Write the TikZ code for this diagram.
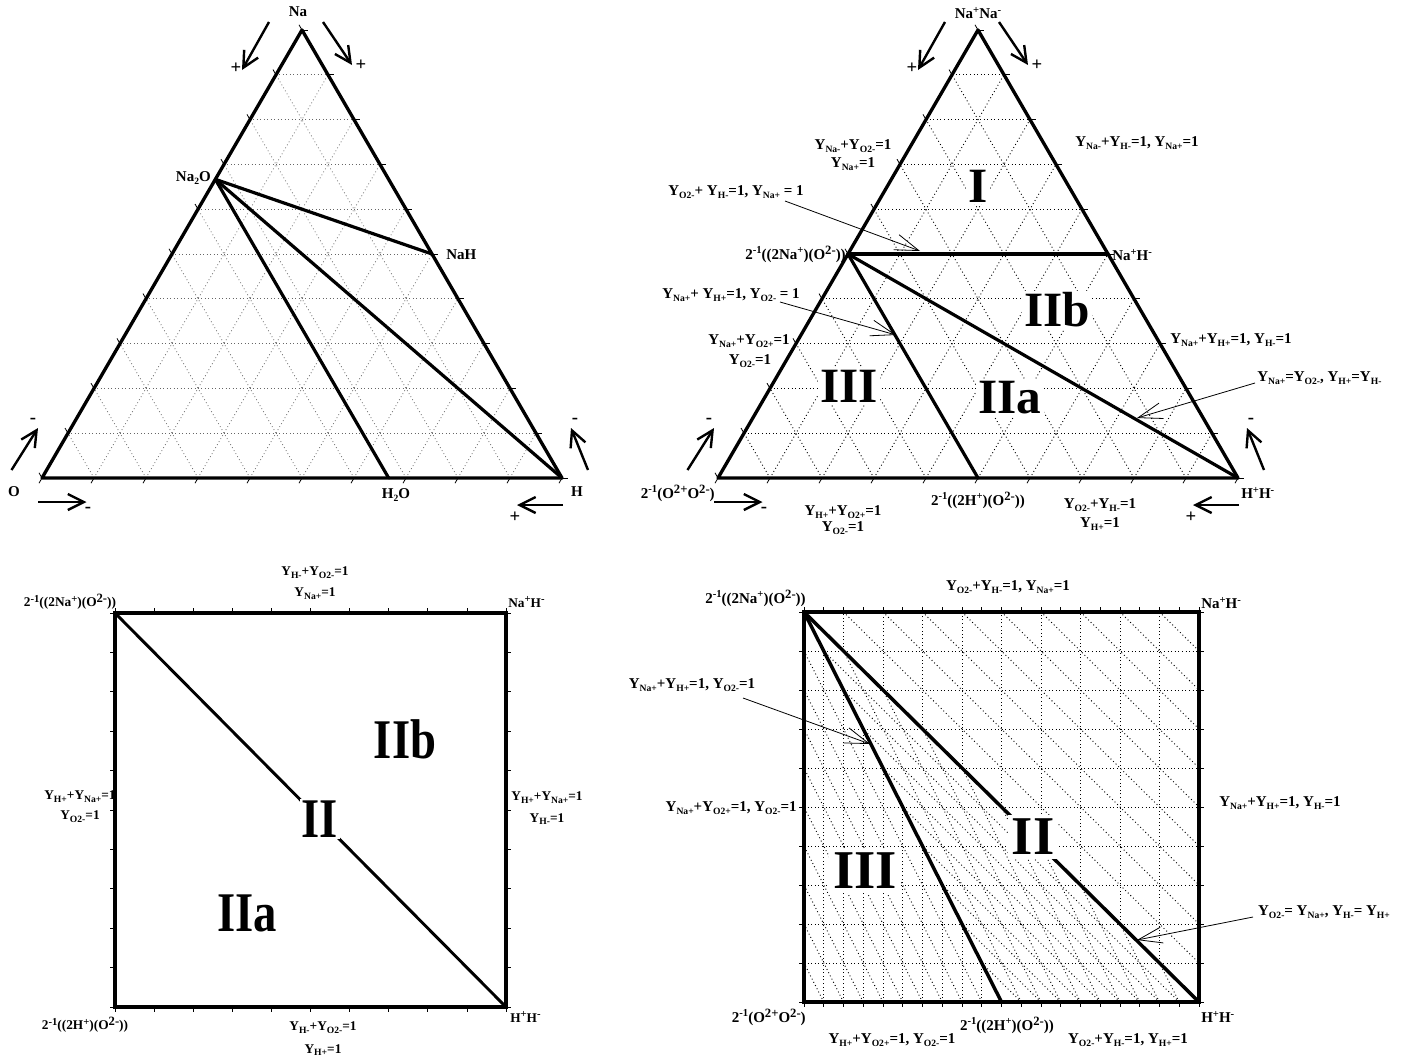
\documentclass[tikz,border=0pt]{standalone}
\usepackage{fontspec}
\usepackage{graphicx}
\setmainfont{Liberation Serif}
\usetikzlibrary{calc,arrows.meta}
\newcommand{\sbx}[1]{\raisebox{-0.45ex}{\fontsize{7.2pt}{7.2pt}\selectfont #1}}
\newcommand{\spx}[1]{\raisebox{0.8ex}{\fontsize{8pt}{8pt}\selectfont #1}}
\newcommand{\spl}[1]{\raisebox{0.7ex}{\fontsize{9.5pt}{9.5pt}\selectfont #1}}
\newcommand{\Ysb}[1]{Y\sbx{#1}}
\newcommand{\terngrid}[4]{%
  \foreach \k [evaluate=\k as \f using \k/10] in {1,...,9}{%
    \draw[#4] ($(#1)!\f!(#2)$) -- ($(#1)!\f!(#3)$);
    \draw[#4] ($(#2)!\f!(#3)$) -- ($(#1)!\f!(#3)$);
    \draw[#4] ($(#2)!\f!(#3)$) -- ($(#2)!\f!(#1)$);
  }}
\newcommand{\terntick}[3]{%
  \foreach \k [evaluate=\k as \f using \k/10] in {0,...,10}{%
    \draw[tickmark] ($(#1)!\f!(#3)$) -- ++(6,0);
    \draw[tickmark] ($(#2)!\f!(#3)$) -- ++(-3,5.2);
    \draw[tickmark] ($(#1)!\f!(#2)$) -- ++(-3,-5.2);
  }}
\newcommand{\signarrows}[1]{%
  \coordinate (#1a1) at (269,22);  \coordinate (#1b1) at (242,70);
  \coordinate (#1a2) at (323,22);  \coordinate (#1b2) at (352,65);
  \coordinate (#1a3) at (11.5,470); \coordinate (#1b3) at (38,428);
  \coordinate (#1a4) at (38,502);  \coordinate (#1b4) at (86.5,502);
  \coordinate (#1a5) at (588,470); \coordinate (#1b5) at (571,428);
  \coordinate (#1a6) at (563,505); \coordinate (#1b6) at (517,505);
  \foreach \i in {1,...,6}{\draw[sgn] (#1a\i) -- (#1b\i);}
  \node[signtxt] (#1s1) at (236,68) {+};
  \node[signtxt] (#1s2) at (361,65) {+};
  \node[signtxt] (#1s3) at (33,421) {-};
  \node[signtxt] (#1s4) at (88,510) {-};
  \node[signtxt] (#1s5) at (575,421) {-};
  \node[signtxt] (#1s6) at (515,517) {+};
}
\begin{document}
\begin{tikzpicture}[x=0.75pt,y=-0.75pt,
  font=\fontsize{11.25pt}{13pt}\selectfont\bfseries,
  every node/.style={inner sep=0pt},
  signtxt/.style={font=\fontsize{14pt}{14pt}\selectfont\bfseries},
  edge/.style={line width=2.5pt, line join=round},
  thickl/.style={line width=2.4pt, line cap=round},
  gridA/.style={dotted, line width=0.6pt, black!60},
  gridB/.style={dotted, line width=0.7pt, black},
  tickmark/.style={line width=0.6pt},
  sgn/.style={line width=1.8pt, -{Straight Barb[length=12pt,width=12pt]}},
  pointer/.style={line width=0.6pt, -{Straight Barb[length=18pt,width=12pt]}},
  bigA/.style={font=\fontsize{37pt}{37pt}\selectfont\bfseries, fill=white, inner sep=1.5pt},
  bigB/.style={font=\fontsize{35pt}{35pt}\selectfont\bfseries, fill=white, inner sep=1.5pt},
  bigC/.style={font=\fontsize{41pt}{41pt}\selectfont\bfseries, fill=white, inner sep=3pt}]
\fill[white] (0,0) rectangle (1407,1061);
\useasboundingbox (0,0) rectangle (1407,1061);

% ================= top-left triangle =================
\coordinate (tlA) at (302,30);
\coordinate (tlL) at (42,478);
\coordinate (tlR) at (562,478);
\coordinate (tlNa2Opt) at ($(tlA)!0.3333!(tlL)$);
\coordinate (tlNaHpt) at ($(tlA)!0.5!(tlR)$);
\coordinate (tlH2Opt) at ($(tlL)!0.6667!(tlR)$);
\terngrid{tlA}{tlL}{tlR}{gridA}
\draw[thickl] (tlNa2Opt) -- (tlNaHpt);
\draw[thickl] (tlNa2Opt) -- (tlR);
\draw[thickl] (tlNa2Opt) -- (tlH2Opt);
\draw[edge] (tlA) -- (tlL) -- (tlR) -- cycle;
\terntick{tlA}{tlL}{tlR}
\signarrows{tls}
\node (tlNa) at (298,12) {Na};
\node[anchor=east] (tlNa2O) at (211,178) {Na\sbx{2}O};
\node[anchor=west] (tlNaH) at (446,255) {NaH};
\node (tlH2O) at (396,495) {H\sbx{2}O};
\node (tlO) at (14,492) {O};
\node (tlH) at (577,492) {H};

% ================= top-right triangle =================
\coordinate (trA) at (978,30);
\coordinate (trL) at (718,478);
\coordinate (trR) at (1238,478);
\coordinate (trP1) at ($(trA)!0.5!(trL)$);
\coordinate (trRM) at ($(trA)!0.5!(trR)$);
\coordinate (trBM) at ($(trL)!0.5!(trR)$);
\terngrid{trA}{trL}{trR}{gridB}
\draw[thickl] (trP1) -- (trRM);
\draw[thickl] (trP1) -- (trR);
\draw[thickl] (trP1) -- (trBM);
\draw[edge] (trA) -- (trL) -- (trR) -- cycle;
\terntick{trA}{trL}{trR}
\begin{scope}[xshift=507pt]
\signarrows{trs}
\end{scope}
\node[bigA] (trI) at (978,186) {I};
\node[bigA] (trIIb) at (1057,310) {IIb};
\node[bigA] (trIII) at (849,386) {III};
\node[bigA] (trIIa) at (1010,398) {IIa};
\node (trNaNa) at (978,13) {Na\spx{+}Na\spx{-}};
\node (trL1a) at (853,146) {\Ysb{Na-}+\Ysb{O2-}=1};
\node (trL1b) at (853,164) {\Ysb{Na+}=1};
\node (trL2) at (1137,143) {\Ysb{Na-}+\Ysb{H-}=1, \Ysb{Na+}=1};
\node (trL3) at (736,192) {\Ysb{O2-}+ \Ysb{H-}=1, \Ysb{Na+} = 1};
\node[anchor=east] (trP1l) at (846,254) {2\spx{-1}((2Na\spx{+})(O\spl{2-}))};
\node[anchor=west] (trRMl) at (1112,255) {Na\spx{+}H\spx{-}};
\node (trL4) at (731,295) {\Ysb{Na+}+ \Ysb{H+}=1, \Ysb{O2-} = 1};
\node (trL5a) at (749,341) {\Ysb{Na+}+\Ysb{O2+}=1};
\node (trL5b) at (750,361) {\Ysb{O2-}=1};
\node[anchor=west] (trL6) at (1170,340) {\Ysb{Na+}+\Ysb{H+}=1, \Ysb{H-}=1};
\node[anchor=west] (trL7) at (1257,378) {\Ysb{Na+}=\Ysb{O2-}, \Ysb{H+}=\Ysb{H-}};
\node[anchor=east] (trBLl) at (715,493) {2\spx{-1}(O\spl{2+}O\spl{2-})};
\node (trL8a) at (843,512) {\Ysb{H+}+\Ysb{O2+}=1};
\node (trL8b) at (843,528) {\Ysb{O2-}=1};
\node (trBMl) at (978,500) {2\spx{-1}((2H\spx{+})(O\spl{2-}))};
\node (trL9a) at (1100,505) {\Ysb{O2-}+\Ysb{H-}=1};
\node (trL9b) at (1100,524) {\Ysb{H+}=1};
\node[anchor=west] (trBRl) at (1241,493) {H\spx{+}H\spx{-}};
\coordinate (trp1s) at (785,201); \coordinate (trp1t) at (920,251);
\coordinate (trp2s) at (780,302); \coordinate (trp2t) at (896,335);
\coordinate (trp3s) at (1255,383); \coordinate (trp3t) at (1137,418);
\draw[pointer] (trp1s) -- (trp1t);
\draw[pointer] (trp2s) -- (trp2t);
\draw[pointer] (trp3s) -- (trp3t);

% ================= bottom-left square =================
\begin{scope}[font=\fontsize{10pt}{12pt}\selectfont\bfseries]
\coordinate (blTL) at (115,613);
\coordinate (blTR) at (506,613);
\coordinate (blBR) at (506,1007);
\coordinate (blBL) at (115,1007);
\draw[line width=2.2pt] (blTL) -- (blBR);
\draw[line width=2.6pt] (blTL) -- (blTR) -- (blBR) -- (blBL) -- cycle;
\foreach \k [evaluate=\k as \f using \k/10] in {0,...,10}{%
  \draw[tickmark] ($(blTL)!\f!(blTR)$) -- ++(0,-5);
  \draw[tickmark] ($(blBL)!\f!(blBR)$) -- ++(0,5);
  \draw[tickmark] ($(blTL)!\f!(blBL)$) -- ++(-5,0);
  \draw[tickmark] ($(blTR)!\f!(blBR)$) -- ++(5,0);
}
\node[bigB] (blIIb) at (405,739) {\scalebox{1}[1.2]{IIb}};
\node[bigB] (blII) at (320,819) {\scalebox{1}[1.2]{II}};
\node[bigB] (blIIa) at (247,913) {\scalebox{1}[1.2]{IIa}};
\node (blTLl) at (70,602) {2\spx{-1}((2Na\spx{+})(O\spl{2-}))};
\node (blT1) at (315,573) {\Ysb{H-}+\Ysb{O2-}=1};
\node (blT2) at (315,594) {\Ysb{Na+}=1};
\node[anchor=west] (blTRl) at (508,602) {Na\spx{+}H\spx{-}};
\node (blLa) at (80,797) {\Ysb{H+}+\Ysb{Na+}=1};
\node (blLb) at (80,817) {\Ysb{O2-}=1};
\node (blRa) at (547,798) {\Ysb{H+}+\Ysb{Na+}=1};
\node (blRb) at (547,819) {\Ysb{H-}=1};
\node (blBLl) at (85,1025) {2\spx{-1}((2H\spx{+})(O\spl{2-}))};
\node (blB1) at (323,1028) {\Ysb{H-}+\Ysb{O2-}=1};
\node (blB2) at (323,1050) {\Ysb{H+}=1};
\node[anchor=west] (blBRl) at (510,1017) {H\spx{+}H\spx{-}};
\end{scope}

% ================= bottom-right square =================
\coordinate (brTL) at (804,612);
\coordinate (brTR) at (1199,612);
\coordinate (brBR) at (1199,1002);
\coordinate (brBL) at (804,1002);
\coordinate (brBM) at (1001.5,1002);
\terngrid{brTL}{brBL}{brBM}{gridB}
\terngrid{brTL}{brBM}{brBR}{gridB}
\terngrid{brTR}{brTL}{brBR}{gridB}
\draw[line width=2.6pt, line cap=round] (brTL) -- (brBM);
\draw[line width=2.6pt, line cap=round] (brTL) -- (brBR);
\draw[line width=3pt] (brTL) -- (brTR) -- (brBR) -- (brBL) -- cycle;
\foreach \k [evaluate=\k as \f using \k/20] in {0,...,20}{%
  \draw[tickmark] ($(brTL)!\f!(brTR)$) -- ++(0,-5);
  \draw[tickmark] ($(brBL)!\f!(brBR)$) -- ++(0,5);
}
\foreach \k [evaluate=\k as \f using \k/10] in {0,...,10}{%
  \draw[tickmark] ($(brTL)!\f!(brBL)$) -- ++(-5,0);
  \draw[tickmark] ($(brTR)!\f!(brBR)$) -- ++(5,0);
}
\node[bigC] (brIII) at (865,871) {III};
\node[bigC] (brII) at (1033,837) {II};
\node[anchor=east] (brTLl) at (806,598) {2\spx{-1}((2Na\spx{+})(O\spl{2-}))};
\node (brT) at (1008,587) {\Ysb{O2-}+\Ysb{H-}=1, \Ysb{Na+}=1};
\node[anchor=west] (brTRl) at (1201,603) {Na\spx{+}H\spx{-}};
\node (brL1) at (692,685) {\Ysb{Na+}+\Ysb{H+}=1, \Ysb{O2-}=1};
\node[anchor=east] (brL2) at (797,808) {\Ysb{Na+}+\Ysb{O2+}=1, \Ysb{O2-}=1};
\node (brR1) at (1280,803) {\Ysb{Na+}+\Ysb{H+}=1, \Ysb{H-}=1};
\node (brR2) at (1324,912) {\Ysb{O2-}= \Ysb{Na+}, \Ysb{H-}= \Ysb{H+}};
\node[anchor=east] (brBLl) at (806,1017) {2\spx{-1}(O\spl{2+}O\spl{2-})};
\node (brB1) at (892,1040) {\Ysb{H+}+\Ysb{O2+}=1, \Ysb{O2-}=1};
\node (brBMl) at (1007,1025) {2\spx{-1}((2H\spx{+})(O\spl{2-}))};
\node (brB2) at (1128,1040) {\Ysb{O2-}+\Ysb{H-}=1, \Ysb{H+}=1};
\node[anchor=west] (brBRl) at (1201,1017) {H\spx{+}H\spx{-}};
\coordinate (brp1s) at (743,698); \coordinate (brp1t) at (870,744);
\coordinate (brp2s) at (1253,917); \coordinate (brp2t) at (1137,940);
\draw[pointer] (brp1s) -- (brp1t);
\draw[pointer] (brp2s) -- (brp2t);
\end{tikzpicture}
\end{document}
